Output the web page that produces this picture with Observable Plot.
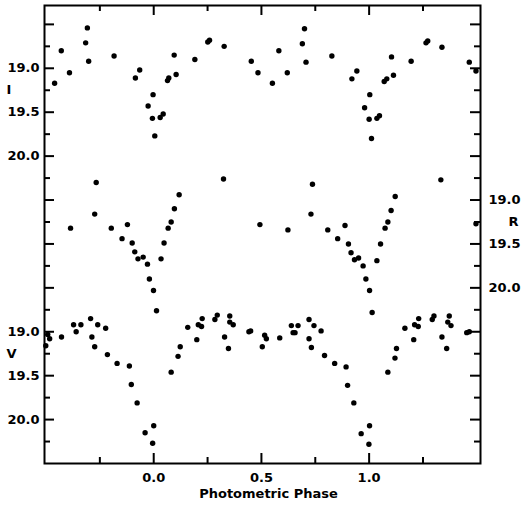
<!DOCTYPE html>
<html><head><meta charset="utf-8">
<script src="https://cdn.jsdelivr.net/npm/d3@7"></script>
<script src="https://cdn.jsdelivr.net/npm/@observablehq/plot@0.6"></script>
<style>body{margin:0;background:#fff}</style>
</head><body><div id="chart"></div>
<script>
const bands = ["I", "R", "V"];
const bandShift = [0, 1.5, 3.0];
const magTicks = [19.0, 19.5, 20.0];
const phaseTicks = [0.0, 0.5, 1.0];
const phaseMinorTicks = [-0.25, 0.25, 0.75, 1.25];
const xTitle = "Photometric Phase";

const iPhase = [-0.460,-0.429,-0.391,-0.316,-0.308,-0.302,-0.184,-0.085,-0.065,-0.026,-0.003,-0.006,0.005,0.030,0.044,0.064,0.070,0.095,0.104,0.191,0.251,0.259,0.327,0.453,0.484,0.551,0.581,0.620,0.690,0.700,0.707,0.827,0.920,0.943,0.979,1.003,1.000,1.011,1.036,1.048,1.070,1.082,1.104,1.113,1.195,1.264,1.272,1.338,1.465,1.496];
const iMag = [19.17,18.80,19.05,18.71,18.54,18.92,18.86,19.11,19.02,19.43,19.30,19.57,19.77,19.56,19.52,19.14,19.11,18.85,19.07,18.90,18.70,18.68,18.75,18.92,19.05,19.17,18.80,19.05,18.72,18.55,18.93,18.86,19.12,19.03,19.45,19.30,19.58,19.80,19.57,19.54,19.15,19.12,18.87,19.08,18.92,18.71,18.69,18.76,18.93,19.03];

const rPhase = [-0.386,-0.274,-0.267,-0.197,-0.147,-0.122,-0.100,-0.088,-0.073,-0.049,-0.029,-0.020,-0.001,0.013,0.034,0.048,0.067,0.081,0.096,0.118,0.324,0.493,0.623,0.730,0.737,0.808,0.854,0.888,0.904,0.916,0.932,0.951,0.972,0.985,1.002,1.014,1.036,1.053,1.074,1.087,1.102,1.121,1.333,1.496];
const rMag = [19.32,19.16,18.80,19.32,19.44,19.28,19.49,19.59,19.67,19.65,19.73,19.90,20.03,20.26,19.67,19.49,19.32,19.25,19.10,18.94,18.76,19.28,19.34,19.16,18.82,19.34,19.44,19.29,19.50,19.60,19.68,19.66,19.75,19.90,20.03,20.28,19.69,19.50,19.32,19.25,19.12,18.96,18.77,19.27];

const vPhase = [-0.501,-0.492,-0.483,-0.428,-0.372,-0.360,-0.338,-0.293,-0.287,-0.274,-0.260,-0.223,-0.215,-0.170,-0.113,-0.104,-0.077,-0.040,0.000,-0.005,0.081,0.113,0.123,0.158,0.200,0.207,0.222,0.225,0.284,0.295,0.329,0.347,0.353,0.353,0.369,0.442,0.450,0.504,0.515,0.523,0.585,0.639,0.670,0.647,0.656,0.721,0.721,0.732,0.744,0.777,0.793,0.840,0.893,0.900,0.929,0.963,1.002,0.999,1.087,1.120,1.127,1.166,1.207,1.211,1.228,1.230,1.293,1.301,1.338,1.360,1.372,1.365,1.380,1.453,1.465];
const vMag = [19.16,19.03,19.08,19.06,18.92,19.00,18.92,18.85,19.06,19.17,18.92,18.96,19.26,19.36,19.39,19.60,19.81,20.15,20.07,20.27,19.46,19.28,19.17,18.95,19.09,18.92,18.94,18.85,18.86,18.81,19.06,19.19,18.82,18.89,18.92,19.00,18.99,19.17,19.04,19.08,19.07,18.93,18.93,19.01,19.01,18.86,19.08,19.18,18.93,18.99,19.27,19.36,19.40,19.61,19.81,20.16,20.07,20.28,19.46,19.30,19.19,18.96,19.09,18.92,18.94,18.85,18.86,18.82,19.06,19.19,18.82,18.89,18.93,19.01,19.00];

const series = {I: [iPhase, iMag], R: [rPhase, rMag], V: [vPhase, vMag]};
const points = [];
bands.forEach((b, k) => {
  const [ph, mg] = series[b];
  ph.forEach((p, i) => points.push({band: b, phase: p, mag: mg[i], y: mg[i] + bandShift[k]}));
});

const leftLabels = new Map();
const rightLabels = new Map();
bands.forEach((b, k) => {
  magTicks.forEach(m => (b === "R" ? rightLabels : leftLabels).set(m + bandShift[k], m.toFixed(1)));
});
const bandRows = bands.map((b, k) => ({band: b, y: (magTicks[0] + magTicks[1]) / 2 + bandShift[k]}));

const majorY = d3.range(18.5, 23.01, 0.5);
const minorY = d3.range(18.75, 23.3, 0.5);

const W = 521, H = 508, mL = 44, mR = 41, mT = 5, mB = 45;
const fw = W - mL - mR, fh = H - mT - mB;
const xDom = [-0.507, 1.517];
const yDom = [23.5, 18.285];
// tick lengths converted from pixels into data units so the rules sit inside the frame
const xU = (xDom[1] - xDom[0]) / fw;
const yU = (yDom[0] - yDom[1]) / fh;
const longT = 10, shortT = 6;
const sw = {stroke: "black", strokeWidth: 2};

const chart = Plot.plot({
  width: W,
  height: H,
  marginLeft: mL,
  marginRight: mR,
  marginTop: mT,
  marginBottom: mB,
  style: {fontFamily: "DejaVu Sans", fontWeight: "bold", fontSize: "13px", background: "white", color: "black"},
  x: {domain: xDom},
  y: {domain: yDom},
  marks: [
    Plot.frame({stroke: "black", strokeWidth: 2}),
    Plot.axisX({anchor: "bottom", ticks: phaseTicks, tickSize: 0, tickPadding: 9, tickFormat: d3.format(".1f"), label: null}),
    Plot.axisY({anchor: "left", ticks: [...leftLabels.keys()], tickSize: 0, tickPadding: 5, tickFormat: d => leftLabels.get(d), label: null}),
    Plot.axisY({anchor: "right", ticks: [...rightLabels.keys()], tickSize: 0, tickPadding: 8, tickFormat: d => rightLabels.get(d), label: null}),
    Plot.text(bandRows.filter(d => d.band !== "R"), {frameAnchor: "left", y: "y", text: "band", dx: -38, textAnchor: "start"}),
    Plot.text(bandRows.filter(d => d.band === "R"), {frameAnchor: "right", y: "y", text: "band", dx: 38, textAnchor: "end"}),
    Plot.text([xTitle], {frameAnchor: "bottom", dy: 34, dx: 6}),
    Plot.dot(points, {x: "phase", y: "y", r: 2.7, fill: "black", stroke: null}),
    // inward ticks on all four sides
    Plot.ruleY(majorY, {y: d => d, x1: () => xDom[0], x2: () => xDom[0] + longT * xU, ...sw}),
    Plot.ruleY(minorY, {y: d => d, x1: () => xDom[0], x2: () => xDom[0] + shortT * xU, ...sw}),
    Plot.ruleY(majorY, {y: d => d, x1: () => xDom[1] - longT * xU, x2: () => xDom[1], ...sw}),
    Plot.ruleY(minorY, {y: d => d, x1: () => xDom[1] - shortT * xU, x2: () => xDom[1], ...sw}),
    Plot.ruleX(phaseTicks, {x: d => d, y1: () => yDom[0], y2: () => yDom[0] - longT * yU, ...sw}),
    Plot.ruleX(phaseMinorTicks, {x: d => d, y1: () => yDom[0], y2: () => yDom[0] - shortT * yU, ...sw}),
    Plot.ruleX(phaseTicks, {x: d => d, y1: () => yDom[1], y2: () => yDom[1] + longT * yU, ...sw}),
    Plot.ruleX(phaseMinorTicks, {x: d => d, y1: () => yDom[1], y2: () => yDom[1] + shortT * yU, ...sw})
  ]
});
document.getElementById("chart").appendChild(chart);
</script>
</body></html>
